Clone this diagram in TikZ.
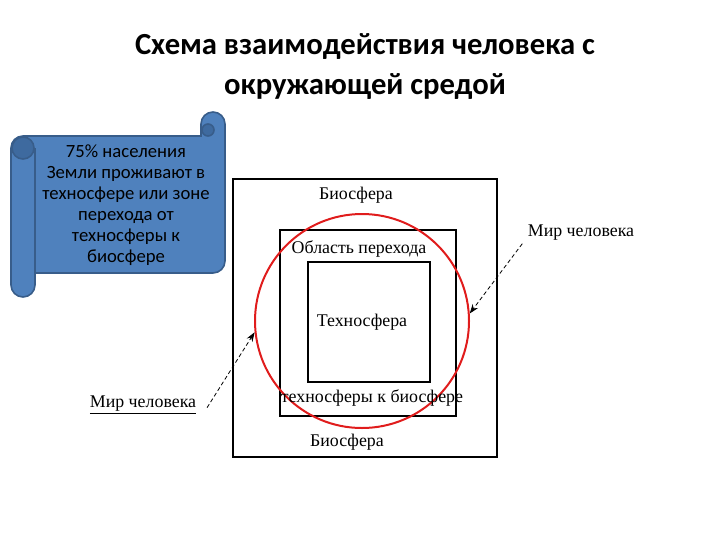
\documentclass[tikz,border=0pt]{standalone}
\usepackage{fontspec}
\setmainfont{Liberation Serif}
\newfontfamily\slidefont{Carlito}
\usetikzlibrary{arrows.meta}
\definecolor{scrollblue}{HTML}{4F81BD}
\definecolor{scrolledge}{HTML}{385D8A}
\definecolor{scrollshade}{HTML}{3E6A9F}
\definecolor{ringred}{HTML}{E01C1C}
\newcommand{\drawzone}{\node[draw,rectangle,line width=0.9pt,inner sep=0]}
\newcommand{\drawlabel}{\node[font=\fontsize{13.4}{15}\selectfont,inner sep=1pt]}
\newcommand{\drawring}{\node[draw=ringred,circle,line width=1.5pt,inner sep=0]}

\begin{document}
\begin{tikzpicture}[x=0.75pt,y=-0.75pt,
  scrollpart/.style={draw=scrolledge,line width=1.2pt,fill=scrollblue},
  pointer/.style={densely dashed,line width=0.6pt,-{Stealth[length=7pt,width=5pt]}}]
\useasboundingbox (0,0) rectangle (720,540);
%title
\node[font=\slidefont\bfseries\fontsize{23}{30}\selectfont,align=center] (title) at (365,66)
  {Схема взаимодействия человека с\\окружающей средой};

%scroll with note
\draw[scrollpart] (11,148) arc[start angle=180,end angle=270,radius=12] -- (201,136)
  -- (201,124) arc[start angle=180,end angle=360,radius=12] -- (225,261)
  arc[start angle=0,end angle=90,radius=12] -- (35,273) -- (35,285)
  arc[start angle=0,end angle=180,radius=12] -- cycle;
\draw[scrollpart,fill=scrollshade] (23,148) circle[radius=11];
\draw[draw=scrolledge,line width=1.2pt] (35,148) -- (35,273);
\draw[scrollpart,fill=scrollshade] (208,130) circle[radius=6];
\node[font=\slidefont\fontsize{14}{15.75}\selectfont,align=center] (note) at (126,205)
  {75\% населения\\Земли проживают в\\техносфере или зоне\\перехода от\\техносферы к\\биосфере};

%zones
\drawzone[minimum width=198pt,minimum height=208.5pt] (bio) at (365,318) {};
\drawzone[minimum width=132pt,minimum height=139.5pt] (trans) at (368,323) {};
\drawzone[minimum width=91.5pt,minimum height=90pt] (techno) at (369,322) {};
\drawring[minimum size=160.5pt] (ring) at (362,321) {};

\drawlabel (bioTop) at (356,195) {Биосфера};
\drawlabel (transTop) at (359,249) {Область перехода};
\drawlabel (technoLbl) at (362,322) {Техносфера};
\drawlabel (transBot) at (372,398) {техносферы к биосфере};
\drawlabel (bioBot) at (347,442) {Биосфера};

%human world
\drawlabel (mirR) at (581,233) {Мир человека};
\drawlabel (mirL) at (143,405) {\underline{Мир человека}};
\draw[pointer] ([xshift=-3pt,yshift=-1pt]mirR.south west) -- (ring.4);
\draw[pointer] ([xshift=7pt,yshift=-2pt]mirL.east) -- (ring.186);
\end{tikzpicture}
\end{document}
